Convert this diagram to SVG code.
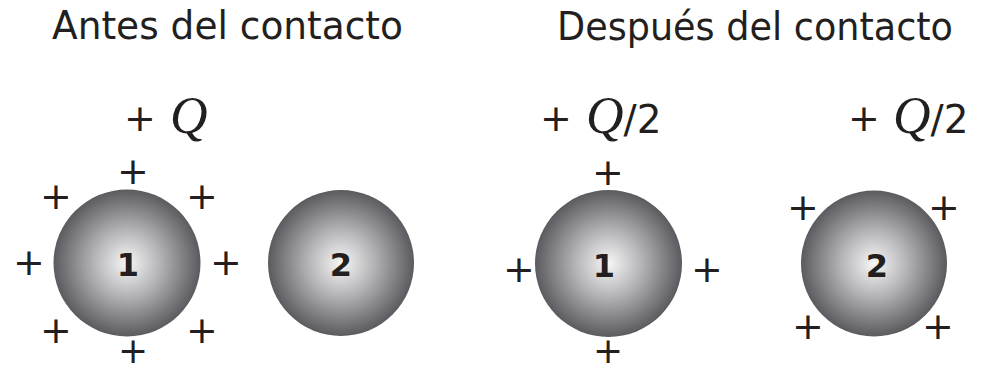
<svg xmlns="http://www.w3.org/2000/svg" width="981" height="372" viewBox="0 0 981 372">
<defs>
<radialGradient id="sph" cx="0.5" cy="0.5" r="0.5">
<stop offset="0" stop-color="#f7f7f7"/>
<stop offset="0.45" stop-color="#b4b4b7"/>
<stop offset="1" stop-color="#5b5b5f"/>
</radialGradient>
</defs>
<style>
.title{font-family:"DejaVu Sans",sans-serif;font-size:38.5px;fill:#231f20}
.ch{font-family:"DejaVu Sans",sans-serif;font-size:38px;fill:#231f20;text-anchor:middle}
.chb{font-family:"DejaVu Sans",sans-serif;font-size:36px;fill:#231f20;text-anchor:middle}
.num{font-family:"DejaVu Sans",sans-serif;font-size:32px;font-weight:bold;fill:#231f20;text-anchor:middle}
.q{font-family:"Liberation Serif",serif;font-style:italic;font-size:52px;fill:#231f20}
.qs{font-family:"DejaVu Sans",sans-serif;font-size:39px;font-style:normal;fill:#231f20}
.ball{fill:url(#sph)}
</style>
<rect width="981" height="372" fill="#ffffff"/>
<text id="title-before" class="title" x="52" y="39" textLength="351" lengthAdjust="spacingAndGlyphs">Antes del contacto</text>
<text id="title-after" class="title" x="557" y="40" textLength="396" lengthAdjust="spacingAndGlyphs">Después del contacto</text>

<g id="label-before">
<text class="ch" x="140" y="131">+</text>
<text class="q" x="170" y="133">Q</text>
</g>
<g id="label-after1">
<text class="ch" x="556" y="131">+</text>
<text class="q" x="586" y="133">Q<tspan class="qs">/2</tspan></text>
</g>
<g id="label-after2">
<text class="ch" x="864" y="131">+</text>
<text class="q" x="893" y="133">Q<tspan class="qs">/2</tspan></text>
</g>

<g id="sphere1-before">
<circle class="ball" cx="127" cy="263" r="73.5"/>
<text class="num" x="128" y="276">1</text>
<text class="ch" x="133" y="184">+</text>
<text class="ch" x="56" y="209">+</text>
<text class="ch" x="202" y="209">+</text>
<text class="ch" x="29" y="275">+</text>
<text class="ch" x="226" y="275">+</text>
<text class="ch" x="56" y="343">+</text>
<text class="ch" x="202" y="343">+</text>
<text class="chb" x="133" y="363">+</text>
</g>
<g id="sphere2-before">
<circle class="ball" cx="341" cy="263" r="73"/>
<text class="num" x="341" y="276">2</text>
</g>
<g id="sphere1-after">
<circle class="ball" cx="608.5" cy="263.5" r="73.5"/>
<text class="num" x="604" y="277">1</text>
<text class="ch" x="608" y="185">+</text>
<text class="ch" x="519" y="282">+</text>
<text class="ch" x="707" y="282">+</text>
<text class="chb" x="608" y="363">+</text>
</g>
<g id="sphere2-after">
<circle class="ball" cx="874" cy="263.5" r="73"/>
<text class="num" x="877" y="277">2</text>
<text class="ch" x="803" y="220">+</text>
<text class="ch" x="944" y="220">+</text>
<text class="ch" x="808" y="339">+</text>
<text class="ch" x="938" y="339">+</text>
</g>
<g id="connectors"/>
</svg>
